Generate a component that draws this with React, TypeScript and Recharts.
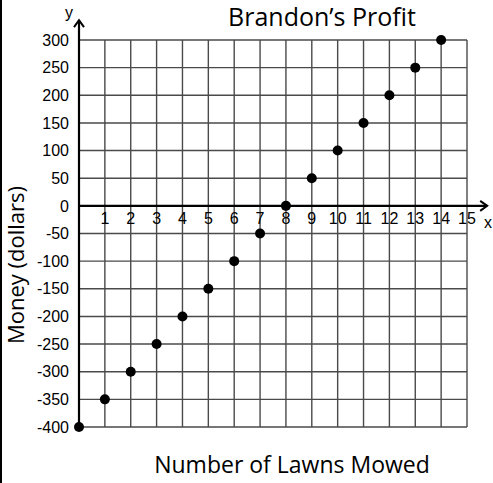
import React from 'react';
import {
  ComposedChart,
  Scatter,
  XAxis,
  YAxis,
  CartesianGrid,
  ReferenceLine,
  ReferenceDot,
} from 'recharts';

// Brandon's profit after mowing x lawns
const lawns = [0, 1, 2, 3, 4, 5, 6, 7, 8, 9, 10, 11, 12, 13, 14];
const money = [-400, -350, -300, -250, -200, -150, -100, -50, 0, 50, 100, 150, 200, 250, 300];

const xTicks = [0, 1, 2, 3, 4, 5, 6, 7, 8, 9, 10, 11, 12, 13, 14, 15];
const xTickLabels = [1, 2, 3, 4, 5, 6, 7, 8, 9, 10, 11, 12, 13, 14, 15];
const yTicks = [-400, -350, -300, -250, -200, -150, -100, -50, 0, 50, 100, 150, 200, 250, 300];

const data = lawns.map((x, i) => ({ x, y: money[i] }));

const tickFont = '"Liberation Sans", Arial, sans-serif';
const labelFont = '"Open Sans", "Noto Sans", sans-serif';

const Dot = (props: any) => <circle cx={props.cx} cy={props.cy} r={5} fill="#000" />;

const ArrowUp = (props: any) => (
  <path
    d={`M${props.cx - 5},${props.cy + 7} L${props.cx},${props.cy} L${props.cx + 5},${props.cy + 7}`}
    fill="none"
    stroke="#000"
    strokeWidth={2}
  />
);

const ArrowRight = (props: any) => (
  <path
    d={`M${props.cx - 7},${props.cy - 5} L${props.cx},${props.cy} L${props.cx - 7},${props.cy + 5}`}
    fill="none"
    stroke="#000"
    strokeWidth={2}
  />
);

const XTickText = (props: any) => (
  <text
    x={props.cx}
    y={props.cy + 18}
    textAnchor="middle"
    fontSize={16}
    fontFamily={tickFont}
    fill="#000"
  >
    {props.payload}
  </text>
);

export default function App() {
  return (
    <div
      style={{
        position: 'absolute',
        left: 0,
        top: 0,
        width: 493,
        height: 483,
        background: '#fff',
        borderLeft: '2px solid #000',
        boxSizing: 'border-box',
      }}
    >
      <div
        style={{
          position: 'absolute',
          left: 170,
          top: -1,
          width: 300,
          textAlign: 'center',
          fontFamily: labelFont,
          fontSize: 25,
          color: '#000',
          whiteSpace: 'nowrap',
        }}
      >
        Brandon’s Profit
      </div>
      <div
        style={{
          position: 'absolute',
          left: 140,
          top: 448,
          width: 300,
          textAlign: 'center',
          fontFamily: labelFont,
          fontSize: 23,
          color: '#000',
          whiteSpace: 'nowrap',
        }}
      >
        Number of Lawns Mowed
      </div>
      <div
        style={{
          position: 'absolute',
          left: 13,
          top: 267,
          width: 0,
          height: 0,
        }}
      >
        <div
          style={{
            position: 'absolute',
            left: -100,
            top: -17,
            width: 200,
            textAlign: 'center',
            transform: 'rotate(-90deg)',
            fontFamily: labelFont,
            fontSize: 22,
            color: '#000',
            whiteSpace: 'nowrap',
          }}
        >
          Money (dollars)
        </div>
      </div>
      <div style={{ position: 'absolute', left: 63, top: 4, fontFamily: tickFont, fontSize: 16 }}>y</div>
      <div style={{ position: 'absolute', left: 482, top: 214, fontFamily: tickFont, fontSize: 16 }}>x</div>
      <div style={{ position: 'absolute', left: -2, top: 0 }}>
        <ComposedChart
          width={493}
          height={483}
          data={data}
          margin={{ top: 40, right: 26, bottom: 55, left: 19 }}
        >
          <CartesianGrid stroke="#4a4a4a" strokeWidth={1.4} />
          <XAxis
            type="number"
            dataKey="x"
            domain={[0, 15]}
            ticks={xTicks}
            interval={0}
            tick={() => <g />}
            axisLine={false}
            tickLine={false}
            height={1}
          />
          <YAxis
            type="number"
            dataKey="y"
            domain={[-400, 300]}
            ticks={yTicks}
            interval={0}
            width={60}
            axisLine={false}
            tickLine={false}
            tickMargin={4}
            tick={{ fontSize: 16, fontFamily: tickFont, fill: '#000' }}
          />
          <ReferenceLine
            segment={[{ x: 0, y: -400 }, { x: 0, y: 336 }]}
            stroke="#000"
            strokeWidth={2.2}
            ifOverflow="visible"
          />
          <ReferenceLine
            segment={[{ x: 0, y: 0 }, { x: 15.78, y: 0 }]}
            stroke="#000"
            strokeWidth={2.2}
            ifOverflow="visible"
          />
          <ReferenceDot x={0} y={336} r={0} ifOverflow="visible" shape={ArrowUp} />
          <ReferenceDot x={15.78} y={0} r={0} ifOverflow="visible" shape={ArrowRight} />
          {xTickLabels.map((v) => (
            <ReferenceDot
              key={v}
              x={v}
              y={0}
              r={0}
              ifOverflow="visible"
              shape={(p: any) => <XTickText {...p} payload={v} />}
            />
          ))}
          <Scatter dataKey="y" fill="#000" shape={Dot} isAnimationActive={false} />
        </ComposedChart>
      </div>
    </div>
  );
}
